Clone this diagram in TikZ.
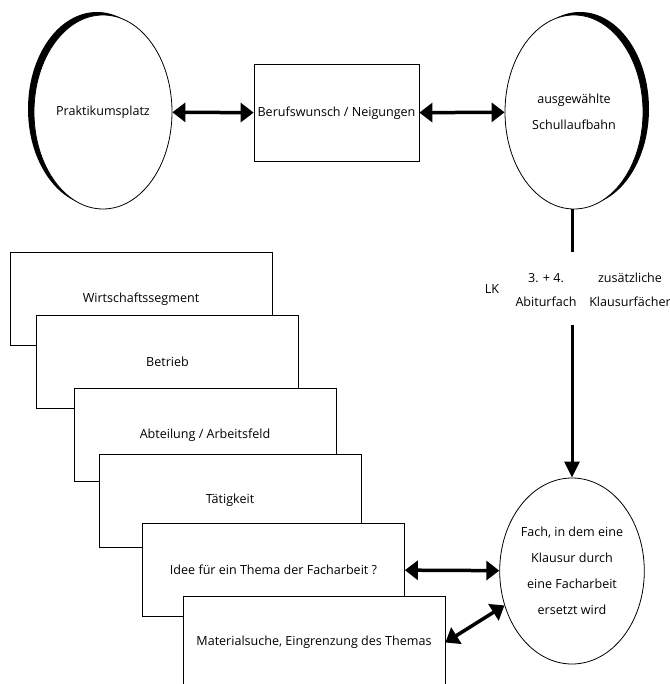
\documentclass[tikz,border=0pt]{standalone}
\usepackage{fontspec}
\setmainfont{Open Sans}
\usepackage{tikz}
\usetikzlibrary{positioning}
\usetikzlibrary{shapes.geometric}
\usetikzlibrary{shadows}
\usetikzlibrary{arrows.meta}

\begin{document}
\begin{tikzpicture}[x=1bp, y=-1bp, font=\fontsize{12.6}{26}\selectfont,
    oval/.style={ellipse, draw, line width=0.8bp, fill=white, inner sep=0pt, align=center, minimum width=138bp, minimum height=194bp},
    karte/.style={rectangle, draw, line width=0.8bp, fill=white, minimum width=262bp, minimum height=93bp},
    pfeil/.style={line width=3.5bp, {Triangle[length=13bp, width=19bp]}-{Triangle[length=13bp, width=19bp]}},
    strang/.style={line width=3bp}]
    \useasboundingbox (0,0) rectangle (670,684);
    \node[oval, drop shadow={shadow xshift=-6bp, shadow yshift=3bp, fill=black, opacity=1}] (prak) at (103,112) {Praktikumsplatz};
    \node[rectangle, draw, line width=0.8bp, minimum width=165bp, minimum height=97bp] (beruf) at (336.5,113) {Berufswunsch / Neigungen};
    \node[oval, drop shadow={shadow xshift=6bp, shadow yshift=3bp, fill=black, opacity=1}] (schul) at (574,112) {ausgewählte\\Schullaufbahn};
    \draw[pfeil] (prak) -- (beruf);
    \draw[pfeil] (beruf) -- (schul);
    \coordinate (oben) at (572,252);
    \coordinate (unten) at (572,325);
    \draw[strang] (schul.south -| oben) -- (oben);
    \node (lk) at (492,289) {LK};
    \node[align=center, font=\fontsize{12.6}{24}\selectfont] (abi) at (546,290) {3. + 4.\\Abiturfach};
    \node[align=center, font=\fontsize{12.6}{24}\selectfont] (zus) at (630,290) {zusätzliche\\Klausurfächer};
    \node[oval, minimum width=134bp, minimum height=186bp] (fach) at (572,571) {Fach, in dem eine\\Klausur durch\\eine Facharbeit\\ersetzt wird};
    \draw[strang, -{Triangle[length=16bp, width=15bp]}] (unten) -- (fach);
    \node[karte] (wirt) at (141,299) {Wirtschaftssegment};
    \node[karte] (betrieb) at (167.5,361.5) {Betrieb};
    \node[karte] (abt) at (205,435) {Abteilung / Arbeitsfeld};
    \node[karte] (taet) at (230,500.5) {Tätigkeit};
    \node[karte] (idee) at (273.5,569.5) {Idee für ein Thema der Facharbeit ?};
    \node[karte] (mat) at (314,642.5) {Materialsuche, Eingrenzung des Themas};
    \draw[pfeil] (idee) -- (fach);
    \draw[pfeil] (mat.east) -- (fach.207);
\end{tikzpicture}
\end{document}
